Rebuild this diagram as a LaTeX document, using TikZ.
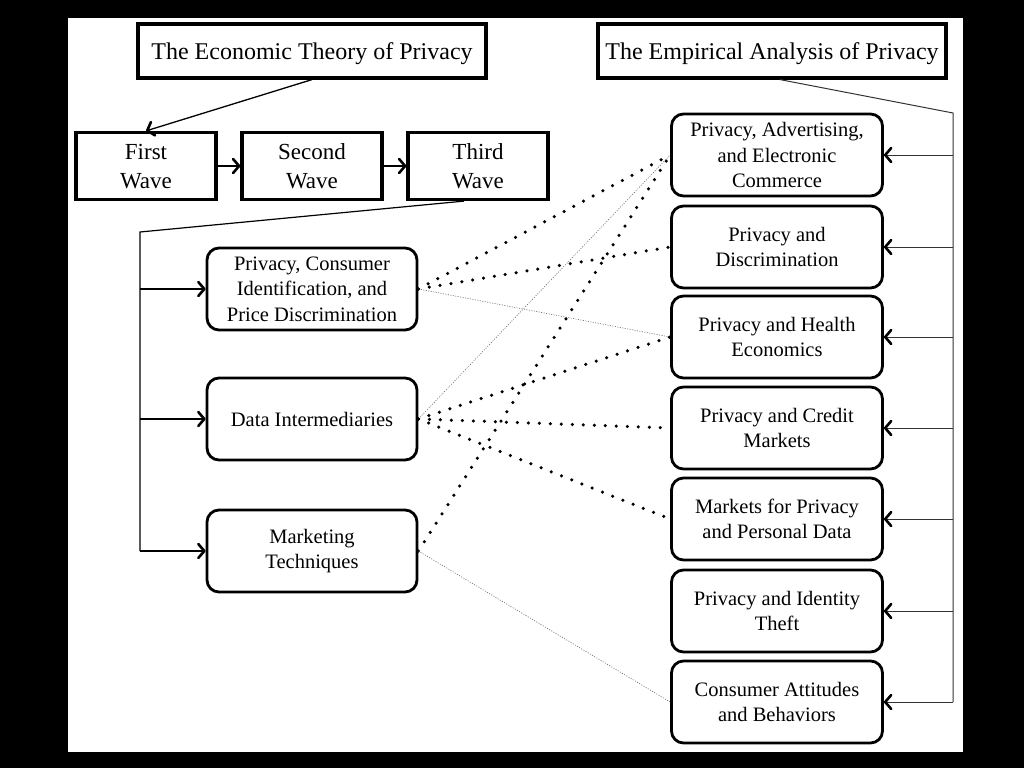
\documentclass[tikz,border=0pt]{standalone}
\usepackage{fontspec}
\setmainfont{Liberation Serif}
\usetikzlibrary{arrows.meta}

\tikzset{
	headbox/.style={draw, line width=3.2pt, minimum width=348pt, minimum height=54pt, inner sep=0pt, text depth=-2pt, font=\fontsize{24}{28}\selectfont},
	wavebox/.style={draw, line width=3.2pt, minimum width=140pt, minimum height=67pt, inner sep=0pt, text depth=-3pt, align=center, font=\fontsize{23}{29}\selectfont},
	topicbox/.style={draw, line width=2.8pt, rounded corners=12pt, minimum width=211pt, minimum height=82pt, inner sep=0pt, align=center, font=\fontsize{20.5}{25.5}\selectfont},
	barb/.style={-{Straight Barb[length=6pt, width=14pt, line width=2.6pt, round, color=black]}},
	strong link/.style={line width=3.5pt, line cap=round, dash pattern=on 0pt off 11pt},
	weak link/.style={black!60, line width=0.6pt, dash pattern=on 1pt off 1.5pt}
}

\begin{document}
\begin{tikzpicture}[x=1pt, y=-1pt]
		\fill[black] (0,0) rectangle (1024,768);
		\fill[white] (68,18) rectangle (963,752);
		\useasboundingbox (0,0) rectangle (1024,768);
		
		% two headings
		\node[headbox] (theory) at (312,51) {The Economic Theory of Privacy};
		\node[headbox] (empirics) at (772,51) {The Empirical Analysis of Privacy};
		
		% the three waves
		\node[wavebox] (first) at (146,166) {First\\Wave};
		\node[wavebox] (second) at (312,166) {Second\\Wave};
		\node[wavebox] (third) at (478,166) {Third\\Wave};
		
		% theory topics
		\node[topicbox, minimum width=210pt] (pricedisc) at (312,289) {Privacy, Consumer\\Identification, and\\Price Discrimination};
		\node[topicbox, minimum width=210pt] (intermed) at (312,419) {Data Intermediaries};
		\node[topicbox, minimum width=210pt] (marketing) at (312,551) {Marketing\\Techniques};
		
		% empirical topics
		\node[topicbox] (advert) at (777,155) {Privacy, Advertising,\\and Electronic\\Commerce};
		\node[topicbox] (discrim) at (777,247) {Privacy and\\Discrimination};
		\node[topicbox] (health) at (777,337) {Privacy and Health\\Economics};
		\node[topicbox] (credit) at (777,428) {Privacy and Credit\\Markets};
		\node[topicbox] (markets) at (777,519) {Markets for Privacy\\and Personal Data};
		\node[topicbox] (identity) at (777,611) {Privacy and Identity\\Theft};
		\node[topicbox] (attitudes) at (777,702) {Consumer Attitudes\\and Behaviors};
		
		\draw[barb, line width=1.3pt] (theory.south) -- (first.north);
		\draw[barb, line width=1.5pt] (first) -- (second);
		\draw[barb, line width=1.5pt] (second) -- (third);
		
		% left bus
		\coordinate (lbus) at (140,232);
		\draw[line width=1.2pt] ([xshift=-14pt]third.south) -- (lbus) -- (lbus |- marketing);
		\draw[barb, line width=1.5pt] (lbus |- pricedisc) -- (pricedisc);
		\draw[barb, line width=1.5pt] (lbus |- intermed) -- (intermed);
		\draw[barb, line width=1.5pt] (lbus |- marketing) -- (marketing);
		
		% right bus
		\coordinate (rbus) at (953,113);
		\draw[line width=1pt, black!80] ([xshift=8pt]empirics.south) -- (rbus) -- (rbus |- attitudes);
		\foreach \t in {advert, discrim, health, credit, markets, identity, attitudes}
			\draw[barb, line width=1pt, black!80] (rbus |- \t) -- (\t);
		
		% links between topics
		\draw[strong link] (pricedisc.east) -- (advert.west);
		\draw[strong link] (pricedisc.east) -- (discrim.west);
		\draw[weak link] (pricedisc.east) -- (health.west);
		\draw[weak link] (intermed.east) -- (advert.west);
		\draw[strong link] (intermed.east) -- (health.west);
		\draw[strong link] (intermed.east) -- (credit.west);
		\draw[strong link] (intermed.east) -- (markets.west);
		\draw[strong link] (marketing.east) -- (advert.west);
		\draw[weak link] (marketing.east) -- (attitudes.west);
	\end{tikzpicture}
\end{document}
